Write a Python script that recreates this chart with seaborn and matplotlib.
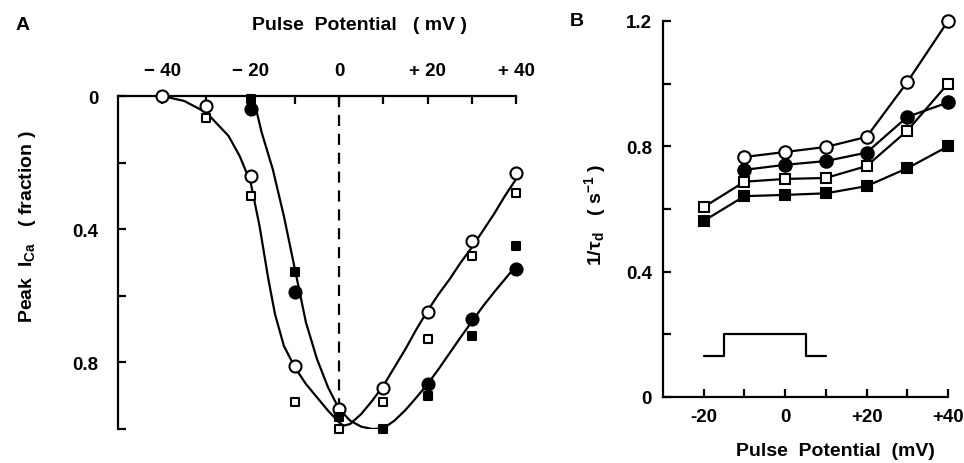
import matplotlib
matplotlib.use("Agg")
import matplotlib.pyplot as plt
import numpy as np
import seaborn as sns

# ── data ─────────────────────────────────────────────────────────────────────
# panel A: peak I_Ca (fraction) vs pulse potential, markers
a_volt = [-40, -30, -20, -10, 0, 10, 20, 30, 40]
a_open_circle = [0.0, 0.03, 0.24, 0.81, 0.94, 0.877, 0.65, 0.435, 0.23]
a_open_square = [np.nan, 0.065, 0.30, 0.92, 1.0, 0.92, 0.73, 0.48, 0.29]
a_fill_circle = [np.nan, np.nan, 0.04, 0.59, np.nan, np.nan, 0.865, 0.67, 0.52]
a_fill_square = [np.nan, np.nan, 0.01, 0.53, 0.965, 1.0, 0.90, 0.72, 0.45]

# fitted curves
fit_open_x = [-40, -35, -30, -25, -22.5, -20, -18, -17, -16, -14.5, -12.5, -10,
              -7.5, -5, -2.5, 0, 1, 2.5, 5, 7.5, 10, 12.5, 15, 17.5, 20, 22.5,
              25, 27.5, 30, 32.5, 35, 37.5, 40]
fit_open_y = [0.0, 0.015, 0.05, 0.12, 0.18, 0.26, 0.39, 0.47, 0.55, 0.655, 0.75,
              0.815, 0.865, 0.905, 0.945, 0.98, 0.99, 0.985, 0.955, 0.915, 0.87,
              0.815, 0.76, 0.70, 0.645, 0.595, 0.55, 0.50, 0.455, 0.405, 0.355,
              0.30, 0.25]
fit_fill_x = [-19.5, -17.5, -15, -12.5, -10, -7.5, -5, -2.5, 0, 2.5, 5, 7.5, 10,
              12.5, 15, 17.5, 20, 22.5, 25, 27.5, 30, 32.5, 35, 37.5, 40]
fit_fill_y = [0.0, 0.11, 0.22, 0.36, 0.52, 0.68, 0.79, 0.875, 0.94, 0.975, 0.993,
              1.0, 0.998, 0.975, 0.943, 0.905, 0.865, 0.82, 0.772, 0.724, 0.678,
              0.632, 0.59, 0.55, 0.51]

# panel B: 1/tau_d vs pulse potential
b_volt = [-20, -10, 0, 10, 20, 30, 40]
b_open_circle = [np.nan, 0.766, 0.782, 0.798, 0.830, 1.005, 1.2]
b_fill_circle = [np.nan, 0.725, 0.741, 0.753, 0.78, 0.894, 0.94]
b_open_square = [0.606, 0.687, 0.696, 0.699, 0.737, 0.85, 1.0]
b_fill_square = [0.562, 0.641, 0.645, 0.65, 0.673, 0.73, 0.80]

# voltage protocol inset
pulse_x = [-20, -15, -15, 5, 5, 10]
pulse_y = [0.13, 0.13, 0.2, 0.2, 0.13, 0.13]

# ── style ────────────────────────────────────────────────────────────────────
sns.set_style("ticks")
plt.rcParams["font.family"] = ["Liberation Sans", "DejaVu Sans"]
plt.rcParams["font.weight"] = "bold"
plt.rcParams["mathtext.fontset"] = "custom"
plt.rcParams["mathtext.rm"] = "Liberation Sans:bold"
plt.rcParams["mathtext.bf"] = "Liberation Sans:bold"
plt.rcParams["mathtext.it"] = "Liberation Sans:bold"
plt.rcParams["mathtext.default"] = "bf"
for k in ["text.color", "axes.labelcolor", "xtick.color", "ytick.color",
          "axes.edgecolor"]:
    plt.rcParams[k] = "black"
LW = 1.6
FS = 13.5   # tick labels
LFS = 14    # axis labels

fig = plt.figure(figsize=(9.64, 4.64), dpi=100)
axA = fig.add_axes([118 / 964, 1 - 430 / 464, 398 / 964, 333 / 464])
axB = fig.add_axes([663 / 964, 1 - 398 / 464, 285 / 964, 376 / 464])

markers = {
    "open_circle": dict(marker="o", facecolor="white"),
    "open_square": dict(marker="s", facecolor="white"),
    "fill_circle": dict(marker="o", facecolor="black"),
    "fill_square": dict(marker="s", facecolor="black"),
}

# ── panel A ──────────────────────────────────────────────────────────────────
sns.lineplot(x=fit_open_x, y=fit_open_y, ax=axA, color="black", lw=LW,
             sort=False, estimator=None, solid_joinstyle="round")
sns.lineplot(x=fit_fill_x, y=fit_fill_y, ax=axA, color="black", lw=LW,
             sort=False, estimator=None, solid_joinstyle="round")
axA.vlines(0, 0, 0.94, colors="black", lw=LW, linestyles=(0, (5, 3.5)))

a_sets = {"open_circle": a_open_circle, "open_square": a_open_square,
          "fill_circle": a_fill_circle, "fill_square": a_fill_square}
for key, vals in a_sets.items():
    m = markers[key]
    size = 75 if m["marker"] == "o" else 38
    sns.scatterplot(x=a_volt, y=vals, ax=axA, marker=m["marker"], s=size,
                    color=m["facecolor"], edgecolor="black", linewidth=1.5,
                    zorder=5, legend=False, clip_on=False)

axA.set_xlim(-50, 40)
axA.set_ylim(1.0, 0.0)
axA.xaxis.tick_top()
axA.set_xticks(np.arange(-40, 41, 10))
axA.set_xticklabels(["\u2212 40", "", "\u2212 20", "", "0", "", "+ 20", "", "+ 40"])
axA.set_yticks(np.arange(0, 1.01, 0.2))
axA.set_yticklabels(["0", "", "0.4", "", "0.8", ""])
axA.tick_params(axis="x", direction="in", length=6, width=LW, pad=12,
                labelsize=FS, top=True, bottom=False)
axA.tick_params(axis="y", direction="in", length=6, width=LW, pad=14,
                labelsize=FS)
for side in ["right", "bottom"]:
    axA.spines[side].set_visible(False)
for side in ["left", "top"]:
    axA.spines[side].set_linewidth(LW)
axA.set_xlabel("")
axA.set_ylabel("")

fig.text(360 / 964, 1 - 25 / 464, "Pulse  Potential   ( mV )", ha="center",
         va="center", fontsize=LFS, fontweight="bold")
fig.text(28 / 964, 1 - 227 / 464, r"Peak  I$_{Ca}$   ( fraction )", rotation=90,
         ha="center", va="center", fontsize=LFS, fontweight="bold")
fig.text(23 / 964, 1 - 25 / 464, "A", ha="center", va="center", fontsize=LFS,
         fontweight="bold")

# ── panel B ──────────────────────────────────────────────────────────────────
b_sets = {"open_circle": b_open_circle, "fill_circle": b_fill_circle,
          "open_square": b_open_square, "fill_square": b_fill_square}
for key, vals in b_sets.items():
    m = markers[key]
    size = 9 if m["marker"] == "o" else 6.5
    sns.lineplot(x=b_volt, y=vals, ax=axB, color="black", lw=LW,
                 marker=m["marker"], markersize=size,
                 markerfacecolor=m["facecolor"], markeredgecolor="black",
                 markeredgewidth=1.5, clip_on=False, zorder=4)

sns.lineplot(x=pulse_x, y=pulse_y, ax=axB, color="black", lw=LW,
             sort=False, estimator=None)

axB.set_xlim(-30, 40)
axB.set_ylim(0, 1.2)
axB.set_xticks(np.arange(-20, 41, 10))
axB.set_xticklabels(["-20", "", "0", "", "+20", "", "+40"])
axB.set_yticks(np.arange(0, 1.21, 0.2))
axB.set_yticklabels(["0", "", "0.4", "", "0.8", "", "1.2"])
axB.tick_params(axis="both", direction="in", length=6, width=LW, pad=8,
                labelsize=FS)
sns.despine(ax=axB)
for side in ["left", "bottom"]:
    axB.spines[side].set_linewidth(LW)
axB.set_xlabel("")
axB.set_ylabel("")

fig.text(835 / 964, 1 - 452 / 464, "Pulse  Potential  (mV)", ha="center",
         va="center", fontsize=LFS, fontweight="bold")
fig.text(595 / 964, 1 - 215 / 464, r"1/$\tau_d$   ( s$^{-1}$ )", rotation=90,
         ha="center", va="center", fontsize=LFS, fontweight="bold")
fig.text(577 / 964, 1 - 22 / 464, "B", ha="center", va="center", fontsize=LFS,
         fontweight="bold")

fig.savefig("out.png", dpi=100)
